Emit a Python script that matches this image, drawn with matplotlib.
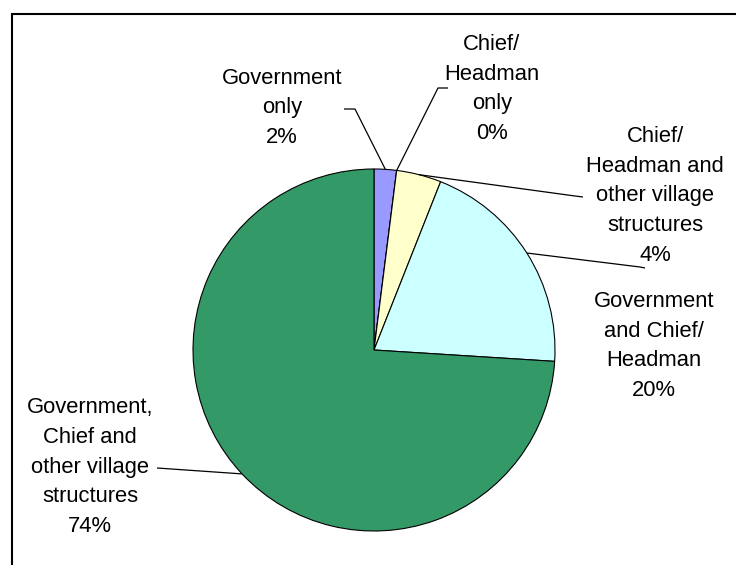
import matplotlib
matplotlib.use("Agg")
import matplotlib.pyplot as plt
import numpy as np
from matplotlib.patches import Rectangle

# dados do gráfico de pizza
labels = [
    "Government\nonly",
    "Chief/\nHeadman\nonly",
    "Chief/\nHeadman and\nother village\nstructures",
    "Government\nand Chief/\nHeadman",
    "Government,\nChief and\nother village\nstructures",
]
values = [2, 0, 4, 20, 74]
colors = ["#9999FF", "#FFFF99", "#FFFFCC", "#CCFFFF", "#339966"]

# posições dos rótulos (pixels, y para baixo) e cotovelo da linha guia
W, H = 736, 565
label_pos = [(282, 108), (492, 89), (655, 196), (654, 346), (90, 467)]
elbow = [[(355, 109), (344, 109)],
         [(438, 88), (448, 88)],
         [(575, 196), (583, 197)],
         [(640, 267), (645, 268)],
         [(157, 468)]]

cx, cy, r = 374, H - 350, 181

plt.rcParams['font.family'] = ['Liberation Sans', 'DejaVu Sans']
fig = plt.figure(figsize=(W / 100, H / 100), dpi=100)
ax = fig.add_axes([0, 0, 1, 1])
ax.set_xlim(0, W)
ax.set_ylim(0, H)
ax.set_aspect('equal')
ax.axis('off')

ax.pie(values, colors=colors, startangle=90, counterclock=False,
       center=(cx, cy), radius=r,
       wedgeprops=dict(edgecolor='black', linewidth=0.8))
ax.set_xlim(0, W)
ax.set_ylim(0, H)

# moldura
ax.add_patch(Rectangle((12, -10), W, H - 14 + 10, fill=False,
                       edgecolor='black', linewidth=1.5, clip_on=False))

total = sum(values)
cum = 0
for i, v in enumerate(values):
    ang = np.deg2rad(90 - 360 * (cum + v / 2) / total)
    cum += v
    px, py = cx + r * np.cos(ang), cy + r * np.sin(ang)
    xs = [px] + [p[0] for p in elbow[i]]
    ys = [py] + [H - p[1] for p in elbow[i]]
    ax.plot(xs, ys, color='black', linewidth=0.9, solid_capstyle='butt')
    pct = f"{v / total * 100:.0f}%"
    tx, ty = label_pos[i]
    ax.text(tx, H - ty, labels[i] + "\n" + pct, ha='center', va='center',
            fontsize=15.8, linespacing=1.55, color='black')

fig.savefig("out.png", dpi=100)
